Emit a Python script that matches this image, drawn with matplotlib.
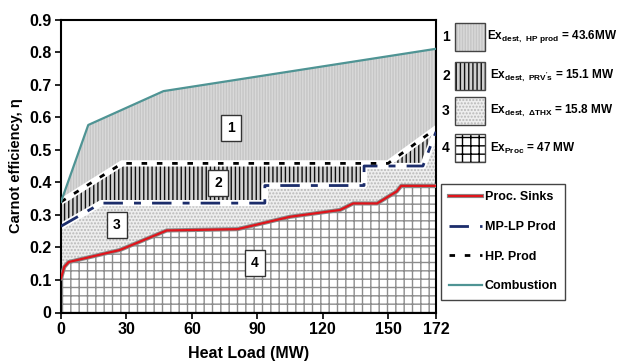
import matplotlib
matplotlib.use('Agg')
import matplotlib.pyplot as plt
import matplotlib.patheffects as pe
from matplotlib.patches import Rectangle
import numpy as np

plt.rcParams['font.family'] = ['Liberation Sans', 'DejaVu Sans']
plt.rcParams['font.weight'] = 'bold'
plt.rcParams['mathtext.fontset'] = 'custom'
plt.rcParams['mathtext.bf'] = 'Liberation Sans:bold'
plt.rcParams['mathtext.rm'] = 'Liberation Sans:bold'
plt.rcParams['mathtext.default'] = 'bf'

# composite curves (heat load MW, carnot efficiency)
comb_x = [0, 12.5, 47, 172]
comb_y = [0.34, 0.576, 0.68, 0.81]
hp_x = [0, 28, 150, 172]
hp_y = [0.34, 0.458, 0.458, 0.565]
mp_x = [0, 18.5, 93.5, 93.5, 139, 139, 166, 172]
mp_y = [0.265, 0.336, 0.336, 0.39, 0.39, 0.45, 0.45, 0.555]
sink_x = [0, 1.5, 3.5, 27, 48.5, 81, 105, 128, 134, 145, 154, 156, 172]
sink_y = [0.105, 0.14, 0.155, 0.192, 0.252, 0.256, 0.294, 0.315, 0.335, 0.335, 0.372, 0.389, 0.389]

region_ids = ['1', '2', '3', '4']
region_text = [r'Ex$_{dest,\ HP\ prod}$ = 43.6MW',
               r"Ex$_{dest,\ PRV's}$ = 15.1 MW",
               r'Ex$_{dest,\ ΔTHX}$ = 15.8 MW',
               r'Ex$_{Proc}$ = 47 MW']
region_label_pos = [(78, 0.567), (72, 0.398), (25.7, 0.269), (89, 0.152)]
region_face = ['#d9d9d9', '#d0d0d0', '#eeeeee', 'white']
region_hatch = ['||||||', '||||', '.....', '++']
region_hcolor = ['#c6c6c6', '#111111', '#b8b8b8', '#8c8c8c']

xticks = [0, 30, 60, 90, 120, 150, 172]
yticks = [0, 0.1, 0.2, 0.3, 0.4, 0.5, 0.6, 0.7, 0.8, 0.9]


def band(ax, xu, yu, xl, yl, i):
    px = np.r_[xu, np.asarray(xl)[::-1]]
    py = np.r_[yu, np.asarray(yl)[::-1]]
    ax.fill(px, py, facecolor=region_face[i], edgecolor=region_hcolor[i],
            hatch=region_hatch[i], linewidth=0, zorder=1)


fig = plt.figure(figsize=(6.19, 3.62), dpi=100)
ax = fig.add_axes([61/619, 1-312.5/362, 375/619, 293/362])

band(ax, comb_x, comb_y, hp_x, hp_y, 0)
band(ax, hp_x, hp_y, mp_x, mp_y, 1)
band(ax, mp_x, mp_y, sink_x, sink_y, 2)
band(ax, sink_x, sink_y, [0, 172], [0, 0], 3)

# white separation under the dashed lines
ax.plot(hp_x, hp_y, color='white', lw=4.5, zorder=2)
ax.plot(mp_x, mp_y, color='white', lw=4.5, zorder=2)

l_sink, = ax.plot(sink_x, sink_y, color='#e0141b', lw=1.6, zorder=3,
                  label='Proc. Sinks',
                  path_effects=[pe.Stroke(linewidth=3.0, foreground='#8a8a8a'), pe.Normal()])
l_mp, = ax.plot(mp_x, mp_y, color='#1c2d6b', lw=2, dashes=(7, 4, 2.5, 4), zorder=3,
                label='MP-LP Prod')
l_hp, = ax.plot(hp_x, hp_y, color='black', lw=2, dashes=(2, 3.5), zorder=3,
                label='HP. Prod')
l_comb, = ax.plot(comb_x, comb_y, color='#4f9494', lw=1.6, zorder=3,
                  label='Combustion')

for rid, (lx, ly) in zip(region_ids, region_label_pos):
    ax.text(lx, ly, rid, ha='center', va='center', fontsize=10, zorder=5,
            bbox=dict(boxstyle='square,pad=0.45', facecolor='white',
                      edgecolor='#333333', linewidth=1))

ax.set_xlim(0, 172)
ax.set_ylim(0, 0.9)
ax.set_xticks(xticks)
ax.set_xticklabels([str(t) for t in xticks])
ax.set_yticks(yticks)
ax.set_yticklabels(['0'] + ['%.1f' % t for t in yticks[1:]])
ax.tick_params(labelsize=11.5, length=4, width=1.2, direction='out', pad=3)
for s in ax.spines.values():
    s.set_linewidth(1.5)
ax.set_xlabel('Heat Load (MW)', fontsize=11.5, fontweight='bold', labelpad=6)
ax.set_ylabel('Carnot efficiency, η', fontsize=10.5, fontweight='bold', labelpad=4)

fig.legend(handles=[l_sink, l_mp, l_hp, l_comb], loc='upper left',
           bbox_to_anchor=(441/619, 1-184/362), fontsize=9,
           frameon=True, fancybox=False, edgecolor='#444444', framealpha=1,
           handlelength=2.7, handletextpad=0.2, labelspacing=1.4,
           borderpad=0.6, borderaxespad=0)

# patch key at the top right
row_y = [37, 76, 111, 148]
for rid, txt, yc, i in zip(region_ids, region_text, row_y, range(4)):
    fig.text(446/619, 1-yc/362, rid, ha='center', va='center', fontsize=10)
    hc = region_hcolor[i] if i != 3 else 'black'
    fig.add_artist(Rectangle((455/619, 1-(yc+14)/362), 30/619, 28/362,
                             transform=fig.transFigure, facecolor=region_face[i],
                             edgecolor=hc, hatch=region_hatch[i], linewidth=0))
    fig.add_artist(Rectangle((455/619, 1-(yc+14)/362), 30/619, 28/362,
                             transform=fig.transFigure, facecolor='none',
                             edgecolor='#444444', linewidth=1))
    fig.text((487 if i == 0 else 490)/619, 1-yc/362, txt, ha='left', va='center',
             fontsize=8.5)

fig.savefig('out.png', dpi=100)
